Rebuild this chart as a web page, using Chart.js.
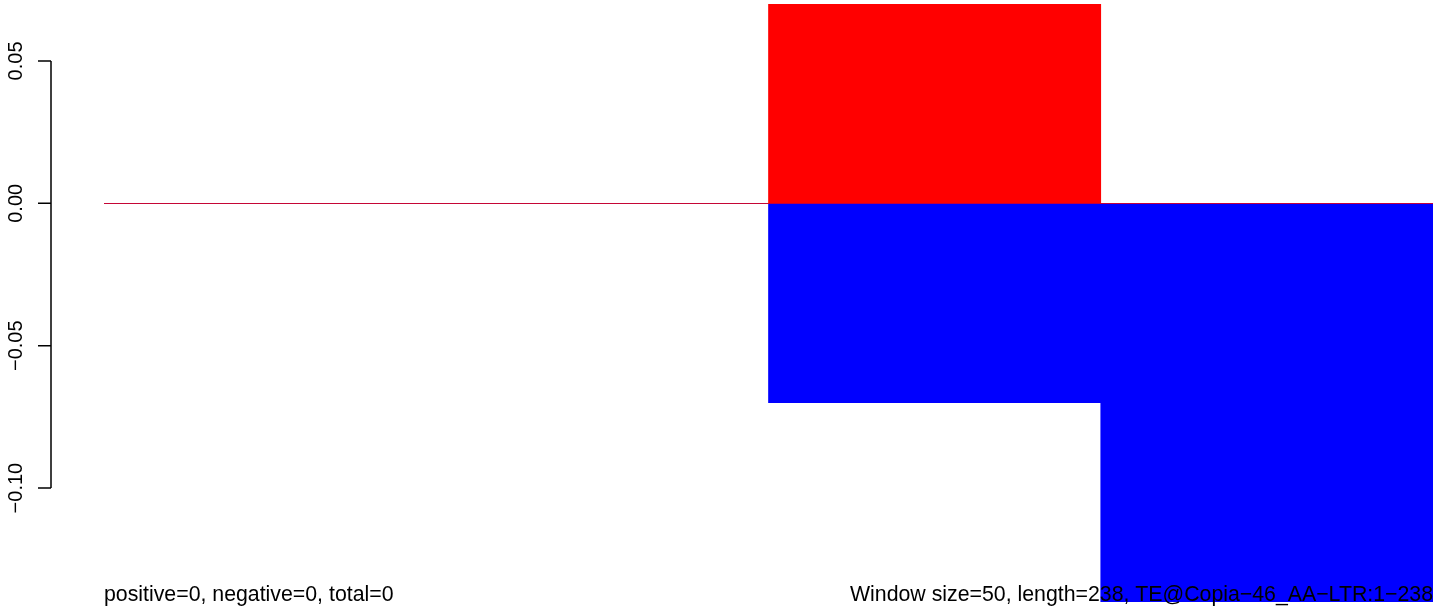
<!DOCTYPE html>
<html>
<head>
<meta charset="utf-8">
<script src="https://cdn.jsdelivr.net/npm/chart.js@4/dist/chart.umd.min.js"></script>
<style>
  html, body { margin: 0; padding: 0; background: #fff; }
  #wrap { width: 1444px; height: 613px; }
</style>
</head>
<body>
<div id="wrap"><canvas id="windowChart" width="1444" height="613"></canvas></div>
<script>
// windows along the element, and what each one scored
const windows = ['1', '2', '3', '4'];
const positive = [0, 0, 0.07, 0];
const negative = [0, 0, -0.07, -0.14];

const yTicks = [0.05, 0, -0.05, -0.10];
const yTickLabels = ['0.05', '0.00', '\u22120.05', '\u22120.10'];

const leftCaption = 'positive=0, negative=0, total=0';
const rightCaption = 'Window size=50, length=238, TE@Copia\u221246_AA\u2212LTR:1\u2212238';

const fontFamily = '"Liberation Sans", Arial, Helvetica, sans-serif';

// thin grey line at zero, under the bars
const zeroLine = {
  id: 'zeroLine',
  beforeDatasetsDraw(chart) {
    const { ctx, chartArea } = chart;
    const y = Math.round(chart.scales.y.getPixelForValue(0)) + 0.5;
    ctx.save();
    ctx.strokeStyle = '#666666';
    ctx.lineWidth = 1;
    ctx.beginPath();
    ctx.moveTo(chartArea.left, y);
    ctx.lineTo(chartArea.right, y);
    ctx.stroke();
    ctx.restore();
  }
};

// R style y axis: line only between first and last tick, rotated labels
const rAxis = {
  id: 'rAxis',
  afterDraw(chart) {
    const { ctx } = chart;
    const scale = chart.scales.y;
    const axisX = 51;
    const ys = yTicks.map(v => scale.getPixelForValue(v));
    ctx.save();
    ctx.strokeStyle = '#000';
    ctx.lineWidth = 1.5;
    ctx.beginPath();
    ctx.moveTo(axisX, Math.min(...ys));
    ctx.lineTo(axisX, Math.max(...ys));
    ys.forEach(y => {
      ctx.moveTo(axisX, y);
      ctx.lineTo(axisX - 13, y);
    });
    ctx.stroke();

    ctx.fillStyle = '#000';
    ctx.font = '20px ' + fontFamily;
    ctx.textAlign = 'center';
    ctx.textBaseline = 'alphabetic';
    ys.forEach((y, i) => {
      ctx.save();
      ctx.translate(22, y);
      ctx.rotate(-Math.PI / 2);
      ctx.fillText(yTickLabels[i], 0, 0);
      ctx.restore();
    });

    // captions sit inside the plot, over the bars
    const { chartArea } = chart;
    ctx.font = '21.3px ' + fontFamily;
    ctx.textAlign = 'left';
    ctx.fillText(leftCaption, chartArea.left, 601);
    ctx.textAlign = 'right';
    ctx.fillText(rightCaption, chartArea.right, 601);
    ctx.restore();
  }
};

const ctx = document.getElementById('windowChart').getContext('2d');
const windowChart = new Chart(ctx, {
  type: 'bar',
  data: {
    labels: windows,
    datasets: [
      {
        label: 'positive',
        data: positive,
        backgroundColor: '#ff0000',
        borderWidth: 0,
        barPercentage: 1,
        categoryPercentage: 1
      },
      {
        label: 'negative',
        data: negative,
        backgroundColor: '#0000ff',
        borderWidth: 0,
        barPercentage: 1,
        categoryPercentage: 1
      }
    ]
  },
  options: {
    responsive: false,
    animation: false,
    layout: {
      padding: { left: 104, right: 11, top: 4, bottom: 11 }
    },
    plugins: {
      legend: { display: false },
      tooltip: { enabled: false }
    },
    scales: {
      x: {
        stacked: true,
        display: false
      },
      y: {
        stacked: true,
        display: false,
        min: -0.14,
        max: 0.07
      }
    }
  },
  plugins: [zeroLine, rAxis]
});
</script>
</body>
</html>
